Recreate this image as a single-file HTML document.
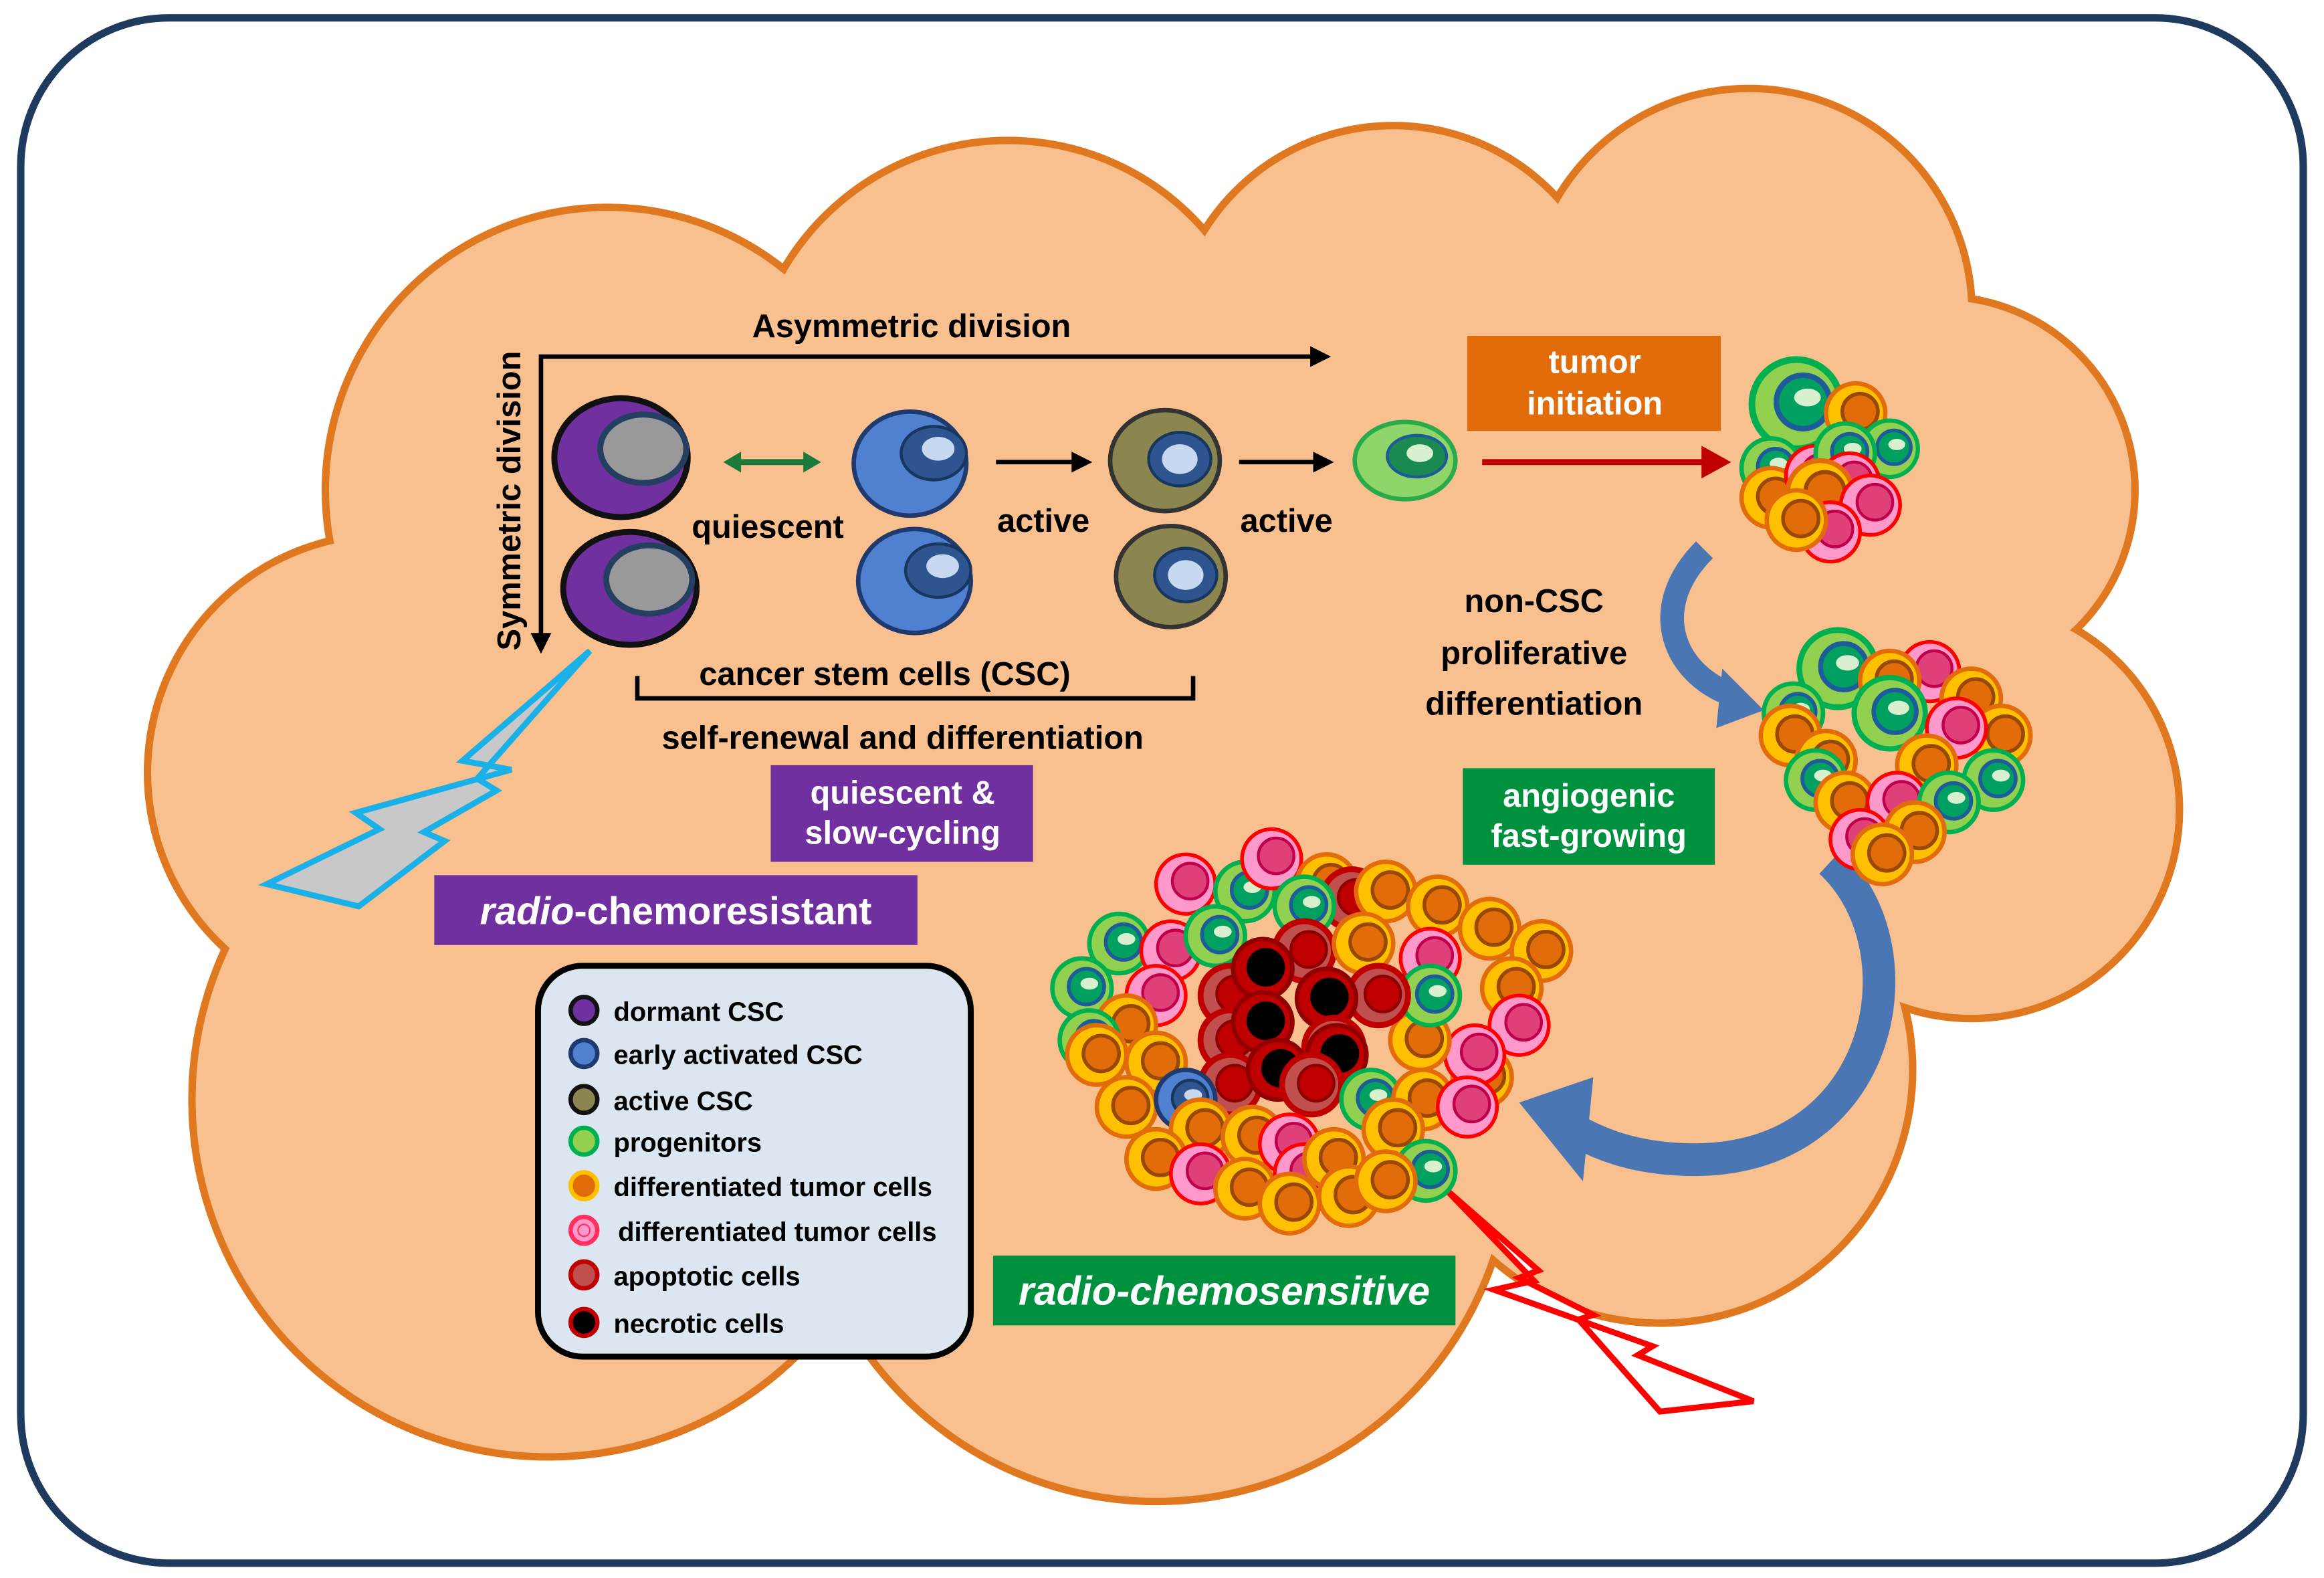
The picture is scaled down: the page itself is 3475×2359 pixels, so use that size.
<!DOCTYPE html>
<html><head><meta charset="utf-8"><style>html,body{margin:0;padding:0;background:#fff}svg{display:block}text{font-family:"Liberation Sans",sans-serif;font-weight:bold}</style></head><body>
<svg width="3475" height="2359" viewBox="0 0 1568 1062" preserveAspectRatio="none" xmlns="http://www.w3.org/2000/svg">
<defs>
<g id="co"><circle r="20" fill="#ffc000" stroke="#e36c0a" stroke-width="3"/><circle cx="3" cy="-1" r="12" fill="#e36c0a" stroke="#984807" stroke-width="2.5"/></g>
<g id="cp"><circle r="20" fill="#ff99cc" stroke="#ff0000" stroke-width="2.5"/><circle cx="3" cy="-2" r="12" fill="#e0407a" stroke="#c0004a" stroke-width="2"/></g>
<g id="cg"><circle r="20" fill="#92d050" stroke="#00b050" stroke-width="3"/><circle cx="3" cy="-1" r="12" fill="#00a060" stroke="#1f5a9a" stroke-width="2.5"/><ellipse cx="5" cy="-3" rx="6" ry="4" fill="#d8f0d0"/></g>
<g id="cr"><circle r="20" fill="#c0504d" stroke="#c00000" stroke-width="4"/><circle cx="3" cy="-1" r="12" fill="#c00000" stroke="#8b0000" stroke-width="2"/></g>
<g id="cn"><circle r="20" fill="#c00000" stroke="#900000" stroke-width="3"/><circle cx="2" cy="-1" r="13" fill="#000"/></g>
<g id="cb"><circle r="20" fill="#4f81d0" stroke="#1f3a6f" stroke-width="3"/><circle cx="3" cy="-1" r="12" fill="#2f5590" stroke="#17375e" stroke-width="2"/><ellipse cx="5" cy="-3" rx="6" ry="4" fill="#c6d9f1"/></g>
</defs>
<rect x="14" y="12" width="1540" height="1040" rx="100" fill="#fff" stroke="#1f3a5f" stroke-width="5"/>
<g fill="#f9c08f" stroke="#e07820" stroke-width="6">
<circle cx="410" cy="330" r="190"/><circle cx="680" cy="270" r="175"/><circle cx="940" cy="235" r="150"/><circle cx="1180" cy="210" r="150"/><circle cx="1310" cy="330" r="130"/><circle cx="1330" cy="545" r="140"/><circle cx="1120" cy="720" r="170"/><circle cx="780" cy="770" r="240"/><circle cx="370" cy="740" r="240"/><circle cx="260" cy="520" r="160"/>
</g>
<g fill="#f9c08f">
<circle cx="410" cy="330" r="188"/><circle cx="680" cy="270" r="173"/><circle cx="940" cy="235" r="148"/><circle cx="1180" cy="210" r="148"/><circle cx="1310" cy="330" r="128"/><circle cx="1330" cy="545" r="138"/><circle cx="1120" cy="720" r="168"/><circle cx="780" cy="770" r="238"/><circle cx="370" cy="740" r="238"/><circle cx="260" cy="520" r="158"/>
<rect x="300" y="250" width="980" height="515"/>
</g>
<g stroke="#000" stroke-width="3" fill="none">
<path d="M365 435 V240 H890"/><path d="M430 455 V470 H805 V455"/>
<path d="M672 311 H730"/><path d="M836 311 H893"/>
</g>
<path d="M898 240 l-14 -7 v14z M365 440 l-7 -14 h14z M737 311 l-14 -7 v14z M900 311 l-14 -7 v14z"/>
<path d="M496 311 H546" stroke="#1a7a3a" stroke-width="4"/><path d="M488 311 l12 -7 v14z M554 311 l-12 -7 v14z" fill="#1a7a3a"/>
<path d="M1000 311 H1150" stroke="#c00000" stroke-width="4"/><path d="M1168 311 l-20 -11 v22z" fill="#c00000"/>
<text x="615" y="227" font-size="22" text-anchor="middle">Asymmetric division</text>
<text transform="translate(351 337) rotate(-90)" font-size="22" text-anchor="middle">Symmetric division</text>
<text x="518" y="362" font-size="22" text-anchor="middle">quiescent</text>
<text x="704" y="358" font-size="22" text-anchor="middle">active</text>
<text x="868" y="358" font-size="22" text-anchor="middle">active</text>
<text x="597" y="461" font-size="22" text-anchor="middle">cancer stem cells (CSC)</text>
<text x="609" y="504" font-size="22" text-anchor="middle">self-renewal and differentiation</text>
<text x="1035" y="412" font-size="22" text-anchor="middle">non-CSC</text>
<text x="1035" y="447" font-size="22" text-anchor="middle">proliferative</text>
<text x="1035" y="481" font-size="22" text-anchor="middle">differentiation</text>
<g stroke-width="4">
<ellipse cx="419" cy="308" rx="45" ry="40" fill="#7030a0" stroke="#111"/><ellipse cx="434" cy="302" rx="29" ry="23" fill="#999" stroke="#243f60"/>
<ellipse cx="425" cy="396" rx="45" ry="38" fill="#7030a0" stroke="#111"/><ellipse cx="438" cy="390" rx="29" ry="23" fill="#999" stroke="#243f60"/>
<ellipse cx="614" cy="312" rx="38" ry="35" fill="#4f81d0" stroke="#1f3a6f" stroke-width="3"/><ellipse cx="630" cy="305" rx="22" ry="18" fill="#2f5590" stroke="#17375e" stroke-width="2"/><ellipse cx="633" cy="302" rx="11" ry="8" fill="#c6d9f1"/>
<ellipse cx="617" cy="391" rx="38" ry="35" fill="#4f81d0" stroke="#1f3a6f" stroke-width="3"/><ellipse cx="633" cy="384" rx="22" ry="18" fill="#2f5590" stroke="#17375e" stroke-width="2"/><ellipse cx="636" cy="381" rx="11" ry="8" fill="#c6d9f1"/>
<ellipse cx="786" cy="310" rx="37" ry="34" fill="#8b8550" stroke="#333" stroke-width="3"/><ellipse cx="796" cy="309" rx="21" ry="18" fill="#2f5590" stroke="#17375e" stroke-width="2"/><ellipse cx="796" cy="309" rx="12" ry="10" fill="#c6d9f1"/>
<ellipse cx="790" cy="388" rx="37" ry="34" fill="#8b8550" stroke="#333" stroke-width="3"/><ellipse cx="800" cy="387" rx="21" ry="18" fill="#2f5590" stroke="#17375e" stroke-width="2"/><ellipse cx="800" cy="387" rx="12" ry="10" fill="#c6d9f1"/>
<ellipse cx="948" cy="310" rx="34" ry="26" fill="#8ed66a" stroke="#2aab4a" stroke-width="3"/><ellipse cx="956" cy="307" rx="20" ry="14" fill="#1a8a50" stroke="#1e5a9a" stroke-width="2"/><ellipse cx="958" cy="305" rx="9" ry="6" fill="#d8f0d0"/>
</g>
<rect x="990" y="226" width="171" height="64" fill="#e36c0a"/>
<text x="1076" y="251" font-size="22" fill="#fff" text-anchor="middle">tumor</text><text x="1076" y="279" font-size="22" fill="#fff" text-anchor="middle">initiation</text>
<rect x="520" y="515" width="177" height="65" fill="#7030a0"/>
<text x="609" y="541" font-size="22" fill="#fff" text-anchor="middle">quiescent &amp;</text><text x="609" y="568" font-size="22" fill="#fff" text-anchor="middle">slow-cycling</text>
<rect x="293" y="589" width="326" height="47" fill="#7030a0"/>
<text x="456" y="622" font-size="26" fill="#fff" text-anchor="middle"><tspan font-style="italic">radio</tspan>-chemoresistant</text>
<rect x="987" y="517" width="170" height="65" fill="#00913f"/>
<text x="1072" y="543" font-size="22" fill="#fff" text-anchor="middle">angiogenic</text><text x="1072" y="570" font-size="22" fill="#fff" text-anchor="middle">fast-growing</text>
<rect x="670" y="845" width="312" height="47" fill="#00913f"/>
<text x="826" y="878" font-size="27" fill="#fff" font-style="italic" text-anchor="middle">radio-chemosensitive</text>
<polygon points="398,438 312,512 345,518 240,547 256,558 180,595 242,610 300,566 286,560 335,532 322,524" fill="#c8c8c8" stroke="#1ab0e8" stroke-width="4"/>
<polygon points="975,800 1035,862 1008,868 1115,906 1105,912 1183,943 1120,950 1065,888 1075,885 1025,860 1038,855" fill="#fff" stroke="#ff0000" stroke-width="4"/>
<path d="M1150 370 C1110 410 1130 455 1170 468" stroke="#4a77b4" stroke-width="16" fill="none"/>
<polygon points="1162,450 1190,478 1158,490" fill="#4a77b4"/>
<path d="M1235 580 C1300 640 1270 790 1130 780 C1100 778 1080 770 1065 762" stroke="#4a77b4" stroke-width="22" fill="none"/>
<polygon points="1025,742 1075,725 1068,795" fill="#4a77b4"/>
<rect x="363" y="650" width="292" height="263" rx="30" fill="#dce6f1" stroke="#000" stroke-width="4"/>
<g font-size="18">
<circle cx="394" cy="680" r="9" fill="#7030a0" stroke="#111" stroke-width="3"/><text x="414" y="687">dormant CSC</text>
<circle cx="394" cy="709" r="9" fill="#4f81d0" stroke="#1f3a6f" stroke-width="3"/><text x="414" y="716">early activated CSC</text>
<circle cx="394" cy="740" r="9" fill="#8b8550" stroke="#111" stroke-width="3"/><text x="414" y="747">active CSC</text>
<circle cx="394" cy="768" r="9" fill="#92d050" stroke="#00b050" stroke-width="3"/><text x="414" y="775">progenitors</text>
<circle cx="394" cy="798" r="9" fill="#e36c0a" stroke="#ffc000" stroke-width="3"/><text x="414" y="805">differentiated tumor cells</text>
<circle cx="394" cy="828" r="9" fill="#ff99cc" stroke="#ff3060" stroke-width="3"/><circle cx="394" cy="828" r="4" fill="none" stroke="#ff3060"/><text x="417" y="835">differentiated tumor cells</text>
<circle cx="394" cy="858" r="9" fill="#c0504d" stroke="#c00000" stroke-width="3"/><text x="414" y="865">apoptotic cells</text>
<circle cx="394" cy="890" r="9" fill="#000" stroke="#c00000" stroke-width="3"/><text x="414" y="897">necrotic cells</text>
</g>
<use href="#cg" transform="translate(1212 272) scale(1.5)"/><use href="#co" transform="translate(1252 278) scale(1)"/><use href="#cg" transform="translate(1275 302) scale(0.95)"/><use href="#cg" transform="translate(1195 315)"/><use href="#co" transform="translate(1195 335)"/><use href="#cp" transform="translate(1225 320)"/><use href="#cg" transform="translate(1245 305)"/><use href="#cp" transform="translate(1248 325)"/><use href="#co" transform="translate(1228 332) scale(1.1)"/><use href="#cp" transform="translate(1262 340)"/><use href="#cp" transform="translate(1235 358)"/><use href="#co" transform="translate(1212 350)"/>
<use href="#cg" transform="translate(1240 450) scale(1.3)"/><use href="#cp" transform="translate(1302 452)"/><use href="#co" transform="translate(1275 458)"/><use href="#co" transform="translate(1330 470)"/><use href="#cg" transform="translate(1275 480) scale(1.2)"/><use href="#cg" transform="translate(1210 480)"/><use href="#co" transform="translate(1208 495)"/><use href="#co" transform="translate(1350 495)"/><use href="#cp" transform="translate(1320 490)"/><use href="#co" transform="translate(1232 512)"/><use href="#co" transform="translate(1300 515)"/><use href="#cg" transform="translate(1345 525)"/><use href="#cg" transform="translate(1225 525)"/><use href="#co" transform="translate(1245 540)"/><use href="#cp" transform="translate(1280 540)"/><use href="#cg" transform="translate(1315 540)"/><use href="#cp" transform="translate(1255 565)"/><use href="#co" transform="translate(1292 560)"/><use href="#co" transform="translate(1270 575)"/>
<g>
<use href="#cp" transform="translate(800 595)"/><use href="#cg" transform="translate(840 600)"/><use href="#cp" transform="translate(858 578)"/><use href="#co" transform="translate(895 595)"/><use href="#cr" transform="translate(912 605)"/><use href="#co" transform="translate(935 600)"/><use href="#cg" transform="translate(880 610)"/><use href="#co" transform="translate(970 610)"/><use href="#co" transform="translate(1005 625)"/><use href="#co" transform="translate(1040 640)"/>
<use href="#cg" transform="translate(755 635)"/><use href="#cp" transform="translate(790 640)"/><use href="#cg" transform="translate(820 630)"/><use href="#cr" transform="translate(880 640)"/><use href="#co" transform="translate(920 635)"/><use href="#cp" transform="translate(965 645)"/><use href="#co" transform="translate(1020 665)"/><use href="#cp" transform="translate(1025 690)"/>
<use href="#cg" transform="translate(730 665)"/><use href="#cp" transform="translate(780 670)"/><use href="#co" transform="translate(760 690)"/><use href="#cg" transform="translate(735 700)"/><use href="#co" transform="translate(740 710)"/><use href="#co" transform="translate(780 715)"/><use href="#co" transform="translate(1000 725)"/><use href="#cp" transform="translate(995 710)"/><use href="#co" transform="translate(958 700)"/><use href="#cg" transform="translate(965 670)"/><use href="#cr" transform="translate(930 670)"/>
<use href="#cr" transform="translate(830 670)"/><use href="#cn" transform="translate(852 652)"/><use href="#cr" transform="translate(830 700)"/><use href="#cn" transform="translate(852 688)"/><use href="#cn" transform="translate(895 672)"/><use href="#cr" transform="translate(900 705)"/><use href="#cn" transform="translate(902 710)"/><use href="#cr" transform="translate(830 730)"/><use href="#cn" transform="translate(862 720)"/><use href="#cr" transform="translate(885 730)"/>
<use href="#co" transform="translate(760 745)"/><use href="#cb" transform="translate(800 740)"/><use href="#co" transform="translate(810 760)"/><use href="#co" transform="translate(845 765)"/><use href="#cp" transform="translate(870 770)"/><use href="#cg" transform="translate(925 740)"/><use href="#co" transform="translate(960 740)"/><use href="#cp" transform="translate(990 745)"/><use href="#co" transform="translate(940 760)"/>
<use href="#co" transform="translate(780 780)"/><use href="#cp" transform="translate(810 790)"/><use href="#co" transform="translate(840 800)"/><use href="#cp" transform="translate(880 790)"/><use href="#co" transform="translate(900 780)"/><use href="#co" transform="translate(910 805)"/><use href="#co" transform="translate(870 810)"/><use href="#cg" transform="translate(962 788)"/><use href="#co" transform="translate(935 795)"/>
</g>
</svg>
</body></html>
